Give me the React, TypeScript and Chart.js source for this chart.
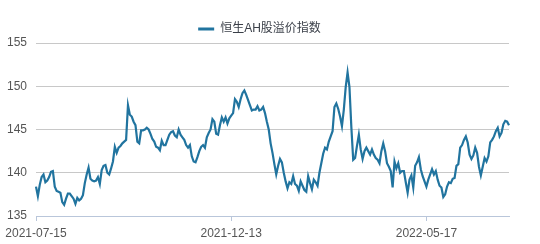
import React, { useEffect, useRef } from 'react';
import { Chart, registerables } from 'chart.js';

Chart.register(...registerables);

// 恒生AH股溢价指数 daily closes
const seriesPart1 = [
  138.4, 137.3, 138.6, 139.5, 139.8, 138.9, 139.1, 139.5, 140.1, 140.2, 138.4, 137.9, 137.8, 137.7, 136.6, 136.3,
  137.0, 137.6, 137.6, 137.3, 137.0, 136.4, 137.1, 136.8, 137.0, 137.4, 138.8, 139.8, 140.6, 139.3, 139.1, 139.0,
  139.1, 139.5, 138.7, 140.3, 140.8, 140.9, 140.0, 139.8, 140.5, 141.3, 143.0, 142.3, 142.9, 143.1, 143.4, 143.6,
  143.8,
];
const seriesPart2 = [
  147.8, 146.7, 146.5, 145.9, 145.5, 143.6, 143.4, 144.9, 144.9, 145.0, 145.2, 145.0, 144.5, 143.9, 143.6, 143.0,
  142.9, 142.6, 143.7, 143.2, 143.2, 143.8, 144.4, 144.7, 144.8, 144.3, 144.1, 145.0, 144.4, 144.1, 143.8, 143.2,
  142.9, 143.2, 141.9, 141.3, 141.2, 141.8, 142.5, 143.0, 143.2, 142.9, 144.1, 144.6, 145.0, 146.2, 145.9, 144.5,
  144.4, 145.5, 146.4, 145.9,
];
const seriesPart3 = [
  146.4, 145.7, 146.3, 146.6, 146.9, 148.5, 148.2, 147.6, 148.5, 149.2, 149.5, 149.0, 148.4, 147.8, 147.2, 147.3,
  147.3, 147.7, 147.2, 147.3, 147.6, 146.9, 145.9, 145.0, 143.4, 142.3, 141.0, 139.8, 140.8, 141.6, 141.2, 140.0,
  139.0, 138.2, 138.9, 138.7, 139.6, 138.7, 138.5, 137.9, 139.0, 138.5, 138.0, 137.8, 139.6, 138.8, 138.1, 139.2,
  138.9,
];
const seriesPart4 = [
  138.5, 140.0, 141.1, 142.2, 142.9, 142.7, 143.6, 144.2, 144.8, 147.6, 148.0, 147.4, 146.5, 145.4, 147.3, 149.9,
  151.6, 149.9, 145.3, 141.5, 141.7, 143.1, 144.4, 142.7, 141.6, 142.5, 142.9, 142.5, 142.1, 142.7, 142.1, 141.7,
  141.5, 141.1, 142.5, 143.4, 142.5, 141.1, 140.7, 140.2, 138.3, 141.3, 140.5, 141.1, 140.0, 140.2, 140.2, 138.9,
  137.7, 139.2, 139.7, 138.3,
];
const seriesPart5 = [
  140.8, 141.2, 141.8, 140.4, 139.6, 139.0, 138.4, 139.2, 139.8, 140.4, 139.8, 140.2, 139.2, 138.5, 138.3, 137.2,
  137.5, 138.4, 138.9, 138.8, 139.3, 139.4, 140.8, 141.0, 142.9, 143.2, 143.8, 144.2, 143.5, 142.1, 141.6, 142.0,
  142.9, 142.3, 140.7, 139.7, 140.7, 141.7, 141.3, 141.9, 143.5, 143.8, 144.2, 144.8, 145.2, 144.2, 144.6, 145.6,
  146.0, 145.9, 145.5,
];

const seriesName = '恒生AH股溢价指数';
const startDate = '2021-07-15';
const holidays = [
  '2021-09-22', '2021-10-01', '2021-10-14', '2021-12-27', '2022-02-01', '2022-02-02', '2022-02-03',
  '2022-04-05', '2022-04-15', '2022-04-18', '2022-06-03', '2022-07-01',
];
const tickLabels = ['2021-07-15', '2021-12-13', '2022-05-17'];
const tickEvery = 104;
const yTicks = [135, 140, 145, 150, 155];

const values = [...seriesPart1, ...seriesPart2, ...seriesPart3, ...seriesPart4, ...seriesPart5];

function tradingDays(start: string, count: number): string[] {
  const out: string[] = [];
  const d = new Date(start + 'T00:00:00Z');
  while (out.length < count) {
    const iso = d.toISOString().slice(0, 10);
    const wd = d.getUTCDay();
    if (wd !== 0 && wd !== 6 && !holidays.includes(iso)) out.push(iso);
    d.setUTCDate(d.getUTCDate() + 1);
  }
  return out;
}

const categories = tradingDays(startDate, values.length);

const LINE = '#21749f';
const FONT = '"Liberation Sans", "Noto Sans CJK SC", sans-serif';

const legendNudge = {
  id: 'legendNudge',
  afterLayout(chart: any) {
    const lg = chart.legend;
    if (!lg) return;
    lg.left += 5;
    lg.right += 5;
    lg.top += 2;
    lg.bottom += 2;
  },
};

export default function App() {
  const ref = useRef<HTMLCanvasElement | null>(null);

  useEffect(() => {
    document.body.style.margin = '0';
    const canvas = ref.current;
    if (!canvas) return;
    const chart = new Chart(canvas, {
      type: 'line',
      data: {
        labels: categories,
        datasets: [
          {
            label: seriesName,
            data: values,
            borderColor: LINE,
            backgroundColor: LINE,
            borderWidth: 2.2,
            pointRadius: 0,
            tension: 0,
            fill: false,
          },
        ],
      },
      plugins: [legendNudge],
      options: {
        responsive: false,
        animation: false,
        devicePixelRatio: 1,
        layout: { padding: { top: 11, right: 31, left: 0, bottom: 0 } },
        plugins: {
          tooltip: { enabled: false },
          legend: {
            display: true,
            position: 'top',
            labels: {
              boxWidth: 16,
              boxHeight: 3,
              padding: 10,
              color: '#3a3f48',
              font: { size: 12, family: FONT },
              generateLabels: (c: any) =>
                c.data.datasets.map((ds: any, i: number) => ({
                  text: ds.label,
                  fillStyle: LINE,
                  strokeStyle: LINE,
                  lineWidth: 0,
                  hidden: false,
                  datasetIndex: i,
                  fontColor: '#3a3f48',
                })),
            },
          },
        },
        scales: {
          x: {
            type: 'category',
            offset: false,
            border: { display: true, color: '#b9c6da', width: 1 },
            grid: {
              display: true,
              drawOnChartArea: false,
              drawTicks: true,
              tickLength: 5,
              color: (ctx: any) => (ctx.index % tickEvery === 0 ? '#b9c6da' : 'rgba(0,0,0,0)'),
            },
            ticks: {
              autoSkip: false,
              maxRotation: 0,
              minRotation: 0,
              padding: 5,
              color: '#555',
              font: { size: 12, family: FONT },
              callback: (_v: any, index: number) =>
                index % tickEvery === 0 ? tickLabels[index / tickEvery] ?? '' : '',
            },
            afterFit: (scale: any) => {
              scale.height = 28;
            },
          },
          y: {
            min: yTicks[0],
            max: yTicks[yTicks.length - 1],
            border: { display: false },
            grid: {
              drawTicks: false,
              color: (ctx: any) => (ctx.tick && ctx.tick.value === yTicks[0] ? 'rgba(0,0,0,0)' : '#c8c8c8'),
              lineWidth: 1,
            },
            afterBuildTicks: (scale: any) => {
              scale.ticks = yTicks.map((v) => ({ value: v }));
            },
            ticks: {
              padding: 9,
              color: '#555',
              font: { size: 12, family: FONT },
            },
            afterFit: (scale: any) => {
              scale.width = 36;
            },
          },
        },
      },
    });
    return () => chart.destroy();
  }, []);

  return (
    <div style={{ width: 540, height: 244, position: 'relative' }}>
      <canvas ref={ref} width={540} height={244} style={{ display: 'block', width: 540, height: 244 }} />
    </div>
  );
}
